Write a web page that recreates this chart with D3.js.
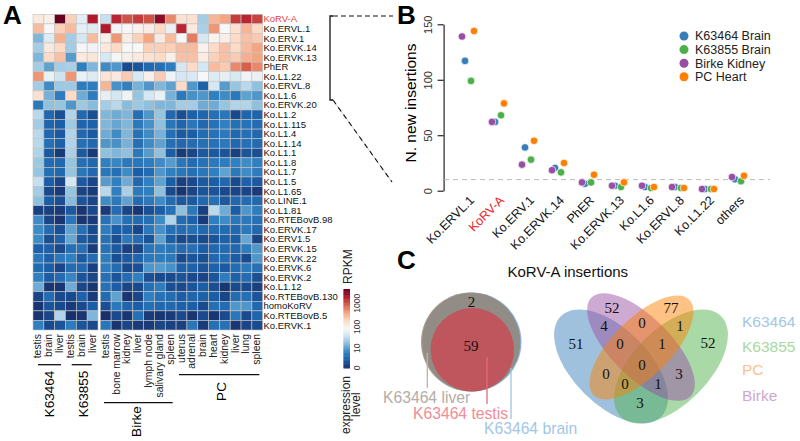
<!DOCTYPE html>
<html>
<head>
<meta charset="utf-8">
<script src="https://cdn.jsdelivr.net/npm/d3@7"></script>
<style>
    body { margin: 0; background: #fff; }
    text { font-family: "Liberation Sans", Arial, sans-serif; }
    .serif { font-family: "Liberation Serif", "Times New Roman", serif; }
</style>
</head>
<body>
<div id="chart"></div>
<script>
// heatmap labels
const rowLabels = ['KoRV-A', 'Ko.ERVL.1', 'Ko.ERV.1', 'Ko.ERVK.14', 'Ko.ERVK.13', 'PhER', 'Ko.L1.22', 'Ko.ERVL.8',
    'Ko.L1.6', 'Ko.ERVK.20', 'Ko.L1.2', 'Ko.L1.115', 'Ko.L1.4', 'Ko.L1.14', 'Ko.L1.1', 'Ko.L1.8', 'Ko.L1.7', 'Ko.L1.5',
    'Ko.L1.65', 'Ko.LINE.1', 'Ko.L1.81', 'Ko.RTEBovB.98', 'Ko.ERVK.17', 'Ko.ERV1.5', 'Ko.ERVK.15', 'Ko.ERVK.22',
    'Ko.ERVK.6', 'Ko.ERVK.2', 'Ko.L1.12', 'Ko.RTEBovB.130', 'homoKoRV', 'Ko.RTEBovB.5', 'Ko.ERVK.1'];
const leftTissues = ['testis', 'brain', 'liver', 'testis', 'brain', 'liver'];
const rightTissues = ['testis', 'bone marrow', 'kidney', 'liver', 'lymph node', 'salivary gland', 'spleen',
    'uterus', 'adrenal', 'brain', 'heart', 'kidney', 'liver', 'lung', 'spleen'];

// expression level read as position on the colour bar (0 bottom, 100 top)
const leftLevels = [
    [55, 53, 100, 62, 45, 90],
    [66, 50, 62, 66, 46, 44],
    [30, 44, 68, 35, 42, 66],
    [35, 55, 60, 35, 49, 48],
    [30, 60, 65, 25, 55, 56],
    [35, 26, 35, 36, 20, 30],
    [72, 47, 41, 72, 47, 44],
    [35, 22, 34, 34, 19, 19],
    [58, 29, 19, 60, 28, 19],
    [18, 32, 33, 24, 34, 31],
    [38, 13, 7, 37, 13, 7],
    [35, 12, 10, 34, 12, 11],
    [38, 13, 9, 37, 13, 9],
    [38, 15, 11, 37, 15, 13],
    [37, 9, 3, 36, 9, 3],
    [34, 14, 13, 33, 15, 13],
    [33, 15, 13, 33, 17, 13],
    [40, 10, 5, 42, 9, 5],
    [35, 6, 3, 33, 5, 3],
    [32, 10, 7, 31, 8, 5],
    [4, 4, 3, 9, 2, 6],
    [22, 5, 2, 17, 2, 3],
    [22, 14, 7, 26, 15, 6],
    [22, 7, 11, 27, 9, 7],
    [11, 11, 6, 15, 15, 3],
    [18, 11, 18, 20, 9, 14],
    [14, 10, 5, 14, 13, 4],
    [20, 10, 14, 21, 8, 5],
    [28, 2, 2, 28, 5, 2],
    [5, 14, 6, 6, 11, 3],
    [2, 8, 6, 3, 6, 10],
    [2, 5, 37, 1, 2, 30],
    [20, 6, 8, 19, 8, 6]
];
const rightLevels = [
    [40, 88, 82, 85, 82, 95, 74, 58, 58, 35, 67, 70, 85, 88, 84],
    [90, 49, 50, 52, 54, 60, 47, 88, 55, 36, 72, 50, 58, 67, 60],
    [53, 72, 54, 62, 70, 55, 66, 50, 76, 42, 52, 53, 60, 65, 63],
    [55, 60, 50, 50, 62, 62, 62, 66, 66, 52, 60, 65, 60, 66, 70],
    [43, 49, 53, 55, 58, 60, 53, 65, 65, 54, 62, 65, 63, 68, 70],
    [22, 24, 6, 8, 13, 15, 19, 42, 60, 42, 66, 63, 74, 80, 74],
    [57, 55, 63, 43, 53, 63, 48, 42, 43, 50, 44, 46, 43, 48, 47],
    [67, 23, 20, 29, 24, 30, 26, 60, 24, 11, 42, 25, 33, 38, 32],
    [46, 42, 48, 33, 42, 47, 29, 18, 23, 24, 20, 22, 18, 26, 24],
    [35, 38, 31, 34, 32, 30, 30, 35, 35, 28, 28, 33, 37, 37, 32],
    [30, 28, 30, 15, 24, 33, 13, 7, 11, 12, 15, 17, 6, 12, 12],
    [30, 27, 30, 18, 23, 32, 17, 12, 17, 13, 16, 20, 15, 16, 14],
    [28, 22, 30, 16, 22, 29, 15, 9, 10, 14, 16, 18, 13, 15, 13],
    [24, 23, 29, 15, 22, 26, 15, 13, 14, 15, 16, 18, 13, 15, 14],
    [32, 30, 32, 18, 25, 32, 10, 3, 5, 9, 9, 8, 4, 8, 7],
    [20, 21, 18, 17, 19, 22, 25, 17, 14, 16, 18, 19, 20, 22, 20],
    [17, 15, 22, 10, 14, 24, 20, 17, 15, 17, 20, 26, 18, 22, 19],
    [25, 20, 28, 13, 20, 26, 10, 4, 6, 9, 10, 13, 6, 11, 9],
    [38, 20, 36, 18, 20, 32, 6, 2, 5, 8, 8, 6, 5, 5, 3],
    [22, 18, 26, 14, 18, 22, 14, 9, 9, 13, 15, 9, 13, 14, 13],
    [3, 14, 5, 2, 7, 10, 16, 32, 18, 4, 38, 28, 10, 24, 19],
    [16, 23, 15, 14, 15, 22, 37, 14, 11, 3, 20, 22, 17, 18, 15],
    [19, 10, 11, 5, 18, 23, 15, 14, 15, 13, 14, 14, 13, 18, 13],
    [16, 7, 18, 14, 8, 26, 10, 6, 7, 6, 8, 11, 10, 27, 5],
    [16, 9, 4, 5, 17, 19, 17, 14, 15, 10, 13, 14, 13, 19, 24],
    [19, 7, 9, 12, 18, 19, 18, 6, 8, 7, 13, 14, 10, 6, 24],
    [19, 14, 6, 7, 24, 25, 23, 11, 11, 8, 11, 9, 14, 18, 15],
    [15, 8, 14, 20, 7, 6, 6, 8, 6, 5, 8, 19, 11, 14, 7],
    [16, 10, 5, 6, 15, 19, 7, 6, 8, 10, 7, 2, 6, 6, 4],
    [14, 26, 2, 5, 20, 16, 14, 10, 12, 11, 10, 5, 14, 15, 8],
    [7, 18, 12, 10, 15, 13, 13, 11, 10, 6, 15, 14, 24, 24, 13],
    [1, 6, 2, 15, 3, 2, 3, 6, 2, 6, 2, 6, 17, 6, 12],
    [17, 2, 5, 3, 3, 5, 4, 4, 17, 3, 15, 16, 2, 5, 6]
];

// colour bar
const barTicks = [0, 25, 52, 82];
const barTickLabels = ['0', '10', '100', '1000'];
const barStops = [0, 10, 20, 32, 42, 50, 60, 70, 80, 90, 100];
const barColors = ['#182c66', '#1b5ea8', '#2f80c0', '#8fc1de', '#d5e7f2', '#f7f7f7', '#fddbc7', '#f4a582', '#d6604d', '#b2182b', '#67001f'];

// panel B
const insertionCats = ['Ko.ERVL.1', 'KoRV-A', 'Ko.ERV.1', 'Ko.ERVK.14', 'PhER', 'Ko.ERVK.13', 'Ko.L1.6', 'Ko.ERVL.8', 'Ko.L1.22', 'others'];
const seriesNames = ['K63464 Brain', 'K63855 Brain', 'Birke Kidney', 'PC Heart'];
const seriesColors = ['#377eb8', '#4daf4a', '#984ea3', '#ff7f00'];
const k63464Brain = [117, 62, 39, 20.5, 6.3, 4.5, 3.3, 3.3, 1.5, 10.3];
const k63855Brain = [99, 68, 28, 16.5, 7.5, 3.3, 2.4, 2.4, 1.5, 8.5];
const birkeKidney = [139, 62, 23.5, 18.5, 7.5, 4.5, 4.5, 3.3, 1.5, 12.3];
const pcHeart = [144, 78.7, 45, 25, 14.4, 7.5, 3.3, 2.4, 1.5, 13.5];
const insertionSeries = [k63464Brain, k63855Brain, birkeKidney, pcHeart];
const seriesDodge = [-3, 3, -6, 6];

// panel C
const smallVennCounts = ['2', '59'];
const bigVennCounts = ['52', '77', '4', '0', '1', '51', '0', '1', '52', '0', '0', '3', '0', '1', '3'];
const bigVennSpots = [[612, 308], [671, 308], [604, 326], [642, 323], [680, 326], [576, 344], [620, 344], [662, 344],
    [708, 343], [642, 365], [606, 374], [679, 374], [625, 384], [658, 384], [640, 403]];

const levelColor = d3.scaleLinear().domain(barStops).range(barColors);

const svg = d3.select('#chart').append('svg').attr('width', 800).attr('height', 441);

drawHeatmap();
drawColorBar();
drawConnector();
drawInsertions();
drawVenns();

// panel letters
[['A', 3, 24], ['B', 397, 24], ['C', 397, 269]].forEach(p => {
    svg.append('text').attr('x', p[1]).attr('y', p[2]).attr('font-size', 26).attr('font-weight', 'bold').text(p[0]);
});

function drawHeatmap() {
    const y = d3.scaleBand().domain(d3.range(rowLabels.length)).range([14.3, 330]);
    const xLeft = d3.scaleBand().domain(d3.range(leftTissues.length)).range([33, 98]);
    const xRight = d3.scaleBand().domain(d3.range(rightTissues.length)).range([100.3, 262.7]);

    function block(levels, x) {
        levels.forEach((row, r) => {
            svg.append('g').selectAll('rect').data(row).enter().append('rect')
                .attr('x', (d, i) => x(i))
                .attr('y', y(r))
                .attr('width', x.bandwidth())
                .attr('height', y.bandwidth())
                .attr('fill', d => levelColor(d))
                .attr('stroke', '#c4c4c4')
                .attr('stroke-width', 0.6);
        });
    }
    block(leftLevels, xLeft);
    block(rightLevels, xRight);

    svg.append('g').selectAll('text').data(rowLabels).enter().append('text')
        .attr('x', 263.5)
        .attr('y', (d, i) => y(i) + y.bandwidth() / 2 + 3.3)
        .attr('font-size', 9.5)
        .attr('fill', d => d === 'KoRV-A' ? '#ef3b3c' : '#111')
        .text(d => d);

    function tissues(names, x) {
        svg.append('g').selectAll('text').data(names).enter().append('text')
            .attr('transform', (d, i) => `translate(${x(i) + x.bandwidth() / 2 + 3},334) rotate(-90)`)
            .attr('text-anchor', 'end')
            .attr('font-size', 10.4)
            .attr('fill', '#222')
            .text(d => d);
    }
    tissues(leftTissues, xLeft);
    tissues(rightTissues, xRight);

    // group brackets
    const groups = [
        { name: 'K63464', x1: 38, x2: 61, y: 364.7, tx: 54, ty: 394 },
        { name: 'K63855', x1: 71.7, x2: 91.7, y: 364.7, tx: 88, ty: 394 },
        { name: 'Birke', x1: 104, x2: 172.7, y: 402.7, tx: 141, ty: 421.5 },
        { name: 'PC', x1: 179, x2: 259.3, y: 374.7, tx: 226, ty: 391.5 }
    ];
    groups.forEach(g => {
        svg.append('line').attr('x1', g.x1).attr('x2', g.x2).attr('y1', g.y).attr('y2', g.y)
            .attr('stroke', '#111').attr('stroke-width', 1.3);
        svg.append('text')
            .attr('transform', `translate(${g.tx},${g.ty}) rotate(-90)`)
            .attr('text-anchor', 'middle')
            .attr('font-size', 13.5)
            .text(g.name);
    });
}

function drawColorBar() {
    const y = d3.scaleLinear().domain([0, 100]).range([368, 289]);
    svg.append('g').selectAll('rect').data(d3.range(0, 100)).enter().append('rect')
        .attr('x', 343.5)
        .attr('y', d => y(d + 1))
        .attr('width', 6.5)
        .attr('height', y(0) - y(1) + 0.5)
        .attr('fill', d => levelColor(d));

    svg.append('g').selectAll('text').data(barTicks).enter().append('text')
        .attr('transform', d => `translate(360,${y(d)}) rotate(-90)`)
        .attr('text-anchor', 'middle')
        .attr('font-size', 8.5)
        .attr('fill', '#333')
        .text((d, i) => barTickLabels[i]);

    svg.append('text').attr('transform', 'translate(352,284) rotate(-90)').attr('font-size', 12).attr('fill', '#222').text('RPKM');
    svg.append('text').attr('transform', 'translate(350,434) rotate(-90)').attr('font-size', 12).attr('fill', '#222').text('expression');
    svg.append('text').attr('transform', 'translate(360,417) rotate(-90)').attr('font-size', 12).attr('fill', '#222').text('level');
}

function drawConnector() {
    svg.append('path').attr('d', 'M333,16H330V100H333').attr('fill', 'none').attr('stroke', '#111').attr('stroke-width', 1.3);
    svg.append('line').attr('x1', 333).attr('y1', 16).attr('x2', 393).attr('y2', 16)
        .attr('stroke', '#111').attr('stroke-width', 1.2).attr('stroke-dasharray', '5,3');
    svg.append('line').attr('x1', 333).attr('y1', 100).attr('x2', 392).attr('y2', 182)
        .attr('stroke', '#999').attr('stroke-width', 0.5);
    svg.append('line').attr('x1', 333).attr('y1', 100).attr('x2', 392).attr('y2', 182)
        .attr('stroke', '#111').attr('stroke-width', 1.1).attr('stroke-dasharray', '5,4');
}

function drawInsertions() {
    const y = d3.scaleLinear().domain([0, 150]).range([190.7, 24.3]);
    const x = d3.scalePoint().domain(insertionCats).range([468, 738]);

    const axis = svg.append('g').attr('transform', 'translate(443.6,0)')
        .call(d3.axisLeft(y).tickValues([0, 50, 100, 150]).tickSize(6).tickSizeOuter(0));
    axis.select('.domain').attr('stroke', '#111').attr('stroke-width', 1.1);
    axis.selectAll('line').attr('stroke', '#111').attr('stroke-width', 1.1);
    axis.selectAll('text')
        .attr('transform', 'rotate(-90)')
        .attr('x', 0).attr('y', -12)
        .attr('dy', 0)
        .attr('text-anchor', 'middle')
        .attr('font-size', 11)
        .attr('font-family', '"Liberation Sans", Arial, sans-serif')
        .attr('fill', '#333');

    svg.append('text')
        .attr('transform', 'translate(416,103) rotate(-90)')
        .attr('text-anchor', 'middle')
        .attr('font-size', 15.5)
        .text('N. new insertions');

    // threshold line
    svg.append('line').attr('x1', 444).attr('x2', 770).attr('y1', y(10)).attr('y2', y(10))
        .attr('stroke', '#bbb').attr('stroke-width', 1).attr('stroke-dasharray', '5,4');

    svg.append('g').selectAll('text').data(insertionCats).enter().append('text')
        .attr('transform', d => `translate(${x(d) + 7},201) rotate(-45)`)
        .attr('text-anchor', 'end')
        .attr('font-size', 12.5)
        .attr('fill', d => d === 'KoRV-A' ? '#e8262a' : '#111')
        .text(d => d);

    insertionSeries.forEach((values, s) => {
        svg.append('g').selectAll('circle').data(values).enter().append('circle')
            .attr('cx', (d, i) => x(insertionCats[i]) + seriesDodge[s])
            .attr('cy', d => y(d))
            .attr('r', 3.8)
            .attr('fill', seriesColors[s])
            .attr('stroke', '#fff')
            .attr('stroke-width', 0.7);
    });

    // legend
    seriesNames.forEach((name, i) => {
        svg.append('circle').attr('cx', 684).attr('cy', 36 + i * 13.6).attr('r', 4.5).attr('fill', seriesColors[i]);
        svg.append('text').attr('x', 695).attr('y', 40.3 + i * 13.6).attr('font-size', 12.5).attr('fill', '#222').text(name);
    });
}

function drawVenns() {
    svg.append('text').attr('x', 507.5).attr('y', 277).attr('font-size', 15).attr('fill', '#111').text('KoRV-A insertions');

    // nested circles
    svg.append('circle').attr('cx', 472).attr('cy', 342).attr('r', 49.5).attr('fill', '#5b97cb').attr('opacity', 0.7);
    svg.append('circle').attr('cx', 470.5).attr('cy', 342).attr('r', 49.5).attr('fill', '#a89a8a').attr('opacity', 1);
    svg.append('circle').attr('cx', 471.3).attr('cy', 342).attr('r', 49).attr('fill', '#928c87');
    svg.append('circle').attr('cx', 472.3).attr('cy', 349.7).attr('r', 41.7).attr('fill', '#bf555d');

    const smallSpots = [[471.5, 307], [471, 351]];
    smallVennCounts.forEach((c, i) => {
        svg.append('text').attr('class', 'serif').attr('x', smallSpots[i][0]).attr('y', smallSpots[i][1])
            .attr('text-anchor', 'middle').attr('font-size', 15).attr('fill', '#111').text(c);
    });

    const leaders = [
        { x: 427.3, y1: 352.7, y2: 388, stroke: '#c0b3a8', label: 'K63464 liver', tx: 383, ty: 403, color: '#b5aca5' },
        { x: 487, y1: 357, y2: 404, stroke: '#e56a77', label: 'K63464 testis', tx: 413, ty: 419, color: '#f08d95' },
        { x: 511, y1: 368, y2: 419, stroke: '#9dc3e0', label: 'K63464 brain', tx: 484, ty: 434, color: '#a3c6e4' }
    ];
    leaders.forEach(l => {
        svg.append('line').attr('x1', l.x).attr('x2', l.x).attr('y1', l.y1).attr('y2', l.y2)
            .attr('stroke', l.stroke).attr('stroke-width', 1.3);
        svg.append('text').attr('x', l.tx).attr('y', l.ty).attr('font-size', 15.7).attr('fill', l.color).text(l.label);
    });

    // four-way venn ellipses
    const shapes = [
        { cx: 611, cy: 366.5, rx: 71, ry: 38, angle: 45, fill: '#377eb8' },
        { cx: 671, cy: 366.5, rx: 71, ry: 38, angle: -45, fill: '#4daf4a' },
        { cx: 641, cy: 347, rx: 70, ry: 30, angle: 45, fill: '#984ea3' },
        { cx: 641.5, cy: 347.5, rx: 67.5, ry: 29, angle: -45, fill: '#ff7f00' }
    ];
    shapes.forEach(s => {
        svg.append('ellipse')
            .attr('transform', `translate(${s.cx},${s.cy}) rotate(${s.angle})`)
            .attr('rx', s.rx).attr('ry', s.ry)
            .attr('fill', s.fill).attr('fill-opacity', 0.48);
    });

    bigVennCounts.forEach((c, i) => {
        svg.append('text').attr('class', 'serif').attr('x', bigVennSpots[i][0]).attr('y', bigVennSpots[i][1] + 5)
            .attr('text-anchor', 'middle').attr('font-size', 15).attr('fill', '#111').text(c);
    });

    const vennLegend = [['K63464', '#a3c6e4', 326.7], ['K63855', '#a8d8a0', 351.7], ['PC', '#fcc08e', 375], ['Birke', '#cfa6d6', 400.7]];
    vennLegend.forEach(l => {
        svg.append('text').attr('x', 742).attr('y', l[2]).attr('font-size', 15.5).attr('fill', l[1]).text(l[0]);
    });
}
</script>
</body>
</html>
